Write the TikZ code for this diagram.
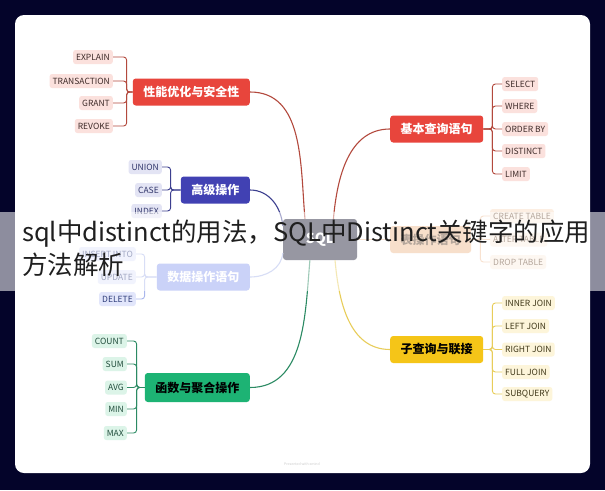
\documentclass[tikz,border=0pt]{standalone}
\usepackage{fontspec}
\setmainfont{Noto Sans CJK SC}
\usetikzlibrary{positioning}

\definecolor{navy}{HTML}{04042A}
\definecolor{sqlgray}{HTML}{1A1A32}
\definecolor{redtopic}{HTML}{E8453C}
\definecolor{redline}{HTML}{B3493D}
\definecolor{redleaf}{HTML}{FBE1DD}
\definecolor{redtext}{HTML}{3D2A28}
\definecolor{indtopic}{HTML}{4141B3}
\definecolor{indline}{HTML}{3C3F8F}
\definecolor{indleaf}{HTML}{E3E4F4}
\definecolor{indtext}{HTML}{30356A}
\definecolor{bluetopic}{HTML}{8B9CF0}
\definecolor{blueline}{HTML}{A9B6EC}
\definecolor{blueleaf}{HTML}{E2E6FB}
\definecolor{bluetext}{HTML}{2E3C7A}
\definecolor{peachtopic}{HTML}{EFB98D}
\definecolor{peachline}{HTML}{F0BF98}
\definecolor{peachleaf}{HTML}{FCEEE2}
\definecolor{peachtext}{HTML}{5A3B22}
\definecolor{yeltopic}{HTML}{F5C518}
\definecolor{yelline}{HTML}{E8CD5A}
\definecolor{yelleaf}{HTML}{FDF5DA}
\definecolor{yeltext}{HTML}{3F3718}
\definecolor{grntopic}{HTML}{1DB374}
\definecolor{grnline}{HTML}{2B8A63}
\definecolor{grnleaf}{HTML}{DCF4E8}
\definecolor{grntext}{HTML}{214D3C}

\begin{document}
\begin{tikzpicture}
  [x=1pt, y=-1pt,
   topic/.style = {rounded corners=3pt, inner xsep=10.5pt, minimum height=27pt,
     font=\bfseries\fontsize{12}{14}\selectfont, text=white},
   leaf/.style = {rounded corners=2.5pt, inner xsep=3pt, inner ysep=0pt,
     minimum height=14pt, font=\fontsize{8.5}{9}\selectfont},
   link/.style = {line width=1.1pt},
   brace/.style = {line width=0.9pt, rounded corners=3pt}
  ]
  \useasboundingbox (0,0) rectangle (605,490);
  \fill[navy] (0,0) rectangle (605,490);
  \fill[white, rounded corners=9pt] (15,15) rectangle (590,473);

  % centre and main topics
  \node[topic, fill=sqlgray, minimum width=74pt, minimum height=41pt,
    font=\bfseries\fontsize{14}{16}\selectfont] (sql) at (320,239.5) {SQL};
  \node[topic, fill=redtopic, anchor=east] (pf) at (250,92) {性能优化与安全性};
  \node[topic, fill=redtopic, anchor=west] (bq) at (390,129) {基本查询语句};
  \node[topic, fill=indtopic, anchor=east] (gj) at (250,190) {高级操作};
  \node[topic, fill=bluetopic, anchor=east] (sj) at (250,277) {数据操作语句};
  \node[topic, fill=peachtopic, text=peachtext, anchor=west] (bc) at (390,239.5) {表操作语句};
  \node[topic, fill=yeltopic, text=black, anchor=west] (zc) at (390,349.5) {子查询与联接};
  \node[topic, fill=grntopic, text=black, anchor=east, minimum height=29pt] (hs) at (250,387.5) {函数与聚合操作};

  % leaves
  \foreach \t/\y [count=\i] in {EXPLAIN/57, TRANSACTION/81, GRANT/103, REVOKE/126} {
    \node[leaf, fill=redleaf, text=redtext, anchor=east] (pf-\i) at (113,\y) {\t};
    \draw[brace, redline] (pf.west) -- ++(-6,0) |- (pf-\i);
  }
  \foreach \t/\y [count=\i] in {SELECT/84, WHERE/106, ORDER BY/129, DISTINCT/151, LIMIT/174} {
    \node[leaf, fill=redleaf, text=redtext, anchor=west] (bq-\i) at (502,\y) {\t};
    \draw[brace, redline] (bq.east) -- ++(9,0) |- (bq-\i);
  }
  \foreach \t/\y [count=\i] in {UNION/167, CASE/190, INDEX/211} {
    \node[leaf, fill=indleaf, text=indtext, anchor=east] (gj-\i) at (162,\y) {\t};
    \draw[brace, indline] (gj.west) -- ++(-10,0) |- (gj-\i);
  }
  \foreach \t/\y [count=\i] in {INSERT INTO/254, UPDATE/277, DELETE/299} {
    \node[leaf, fill=blueleaf, text=bluetext, anchor=east] (sj-\i) at (136,\y) {\t};
    \draw[brace, blueline] (sj.west) -- ++(-12,0) |- (sj-\i);
  }
  \foreach \t/\y [count=\i] in {CREATE TABLE/216, ALTER TABLE/239.5, DROP TABLE/262} {
    \node[leaf, fill=peachleaf, text=peachtext, anchor=west] (bc-\i) at (490,\y) {\t};
    \draw[brace, peachline] (bc.east) -- ++(9,0) |- (bc-\i);
  }
  \foreach \t/\y [count=\i] in {INNER JOIN/303, LEFT JOIN/326, RIGHT JOIN/349.5, FULL JOIN/372, SUBQUERY/394} {
    \node[leaf, fill=yelleaf, text=yeltext, anchor=west] (zc-\i) at (502,\y) {\t};
    \draw[brace, yelline] (zc.east) -- ++(9,0) |- (zc-\i);
  }
  \foreach \t/\y [count=\i] in {COUNT/341, SUM/364, AVG/387.5, MIN/409, MAX/433} {
    \node[leaf, fill=grnleaf, text=grntext, anchor=east] (hs-\i) at (127,\y) {\t};
    \draw[brace, grnline] (hs.west) -- ++(-8,0) |- (hs-\i);
  }

  % branches from the centre
  \draw[link, redline] (sql.126) to[out=95, in=0] (pf.east);
  \draw[link, redline] (sql.57) to[out=85, in=180] (bq.west);
  \draw[link, indline] (sql.160) to[out=95, in=0] (gj.east);
  \draw[link, blueline] (sql.200) to[out=265, in=0] (sj.east);
  \draw[link, peachline] (sql.east) -- (bc.west);
  \draw[link, yelline] (sql.306) to[out=275, in=180] (zc.west);
  \draw[link, grnline] (sql.244) to[out=265, in=0] (hs.east);

  \node[font=\fontsize{3.5}{4}\selectfont, text=black!20] (credit) at (302,464) {Presented with xmind};

  % title band
  \fill[white, opacity=0.55] (0,212) rectangle (605,291);
  \node[anchor=north west, align=left, inner sep=0pt, text=black!88,
    font=\fontsize{25.5}{33}\selectfont] (title) at (22,220)
    {sql中distinct的用法，SQL中Distinct关键字的应用\\方法解析};
\end{tikzpicture}
\end{document}
